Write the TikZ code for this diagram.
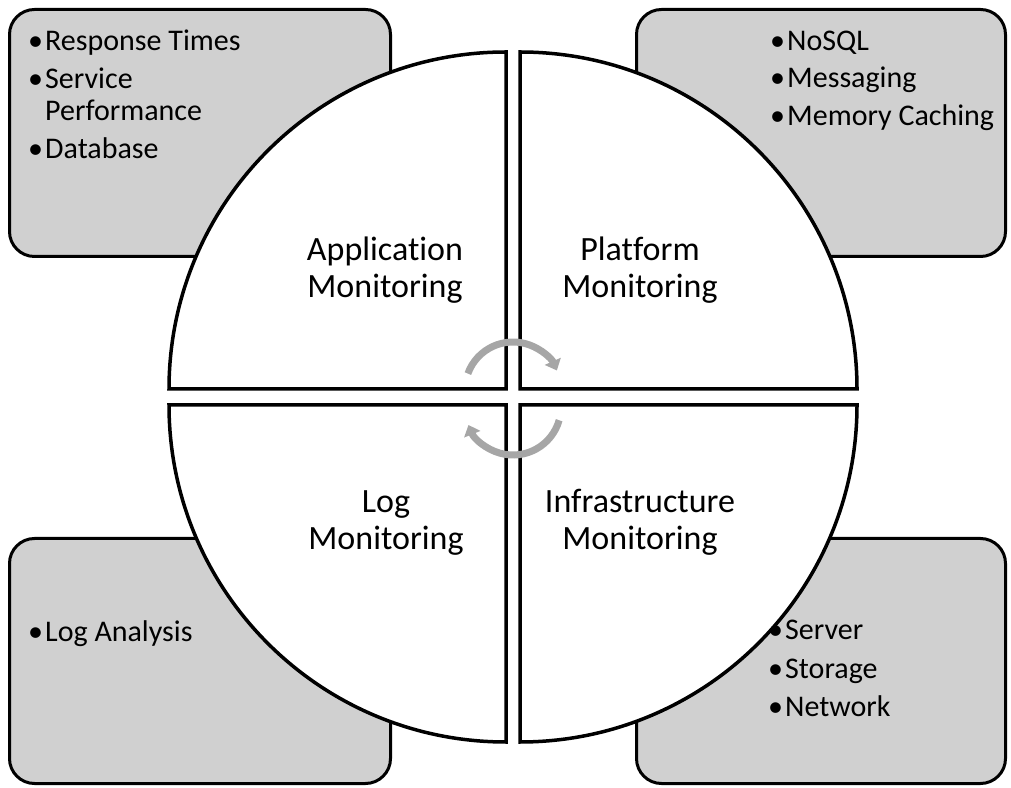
\documentclass[tikz,border=0pt]{standalone}
\usepackage{fontspec}
\setmainfont{Carlito}[Ligatures=NoCommon]
\usetikzlibrary{arrows.meta}
\definecolor{boxgray}{RGB}{208,208,208}
\definecolor{arrowgray}{RGB}{166,166,166}
\newcommand{\bl}{\makebox[17pt][l]{\textbullet}}
\begin{document}
\begin{tikzpicture}[x=1pt,y=1pt,
  box/.style={draw=black, line width=3pt, fill=boxgray, rounded corners=25pt, inner sep=0pt},
  quarter/.style={draw=black, line width=3.5pt, fill=white, line join=miter},
  item/.style={anchor=base west, inner sep=0pt, font=\fontsize{30}{33}\selectfont},
  qlabel/.style={anchor=base, align=center, inner sep=0pt, font=\fontsize{34}{37}\selectfont},
  cyc/.style={draw=arrowgray, line width=7pt, -{Triangle[width=17pt,length=10pt]}}
]
\useasboundingbox (0,0) rectangle (1011,787);

% corner boxes
\node[box, minimum width=381pt, minimum height=247pt] (boxTL) at (200,654) {};
\node[box, minimum width=369pt, minimum height=247pt] (boxTR) at (821,654) {};
\node[box, minimum width=381pt, minimum height=245pt] (boxBL) at (200,126) {};
\node[box, minimum width=369pt, minimum height=245pt] (boxBR) at (821,126) {};

% quarter circles
\draw[quarter] (506,398) -- (169,398) arc[start angle=180, end angle=90, radius=337] -- cycle;
\draw[quarter] (520,398) -- (520,735) arc[start angle=90, end angle=0, radius=337] -- cycle;
\draw[quarter] (506,382) -- (506,45) arc[start angle=270, end angle=180, radius=337] -- cycle;
\draw[quarter] (520,382) -- (857,382) arc[start angle=0, end angle=-90, radius=337] -- cycle;

% cycle arrows
\draw[cyc] (513,397) ++(160:48) arc[start angle=160, end angle=24, radius=48];
\draw[cyc] (513,380) ++(-16:48) arc[start angle=-16, end angle=-158, radius=48];

% quadrant labels (anchored at the baseline of the last line)
\node[qlabel] (app) at (385,489) {Application\\Monitoring};
\node[qlabel] (plat) at (640,489) {Platform\\Monitoring};
\node[qlabel] (log) at (386,237) {Log\\Monitoring};
\node[qlabel] (infra) at (640,237) {Infrastructure\\Monitoring};

% bullet items
\node[item] (i1) at (28,736) {\bl Response Times};
\node[item] (i2) at (28,698.5) {\bl Service};
\node[item] (i3) at (45,666) {Performance};
\node[item] (i4) at (28,628.5) {\bl Database};
\node[item] (i5) at (770,736.5) {\bl NoSQL};
\node[item] (i6) at (770,699) {\bl Messaging};
\node[item] (i7) at (770,661) {\bl Memory Caching};
\node[item] (i8) at (28,146) {\bl Log Analysis};
\node[item] (i9) at (768,147) {\bl Server};
\node[item] (i10) at (768,109) {\bl Storage};
\node[item] (i11) at (768,71) {\bl Network};
\end{tikzpicture}
\end{document}
